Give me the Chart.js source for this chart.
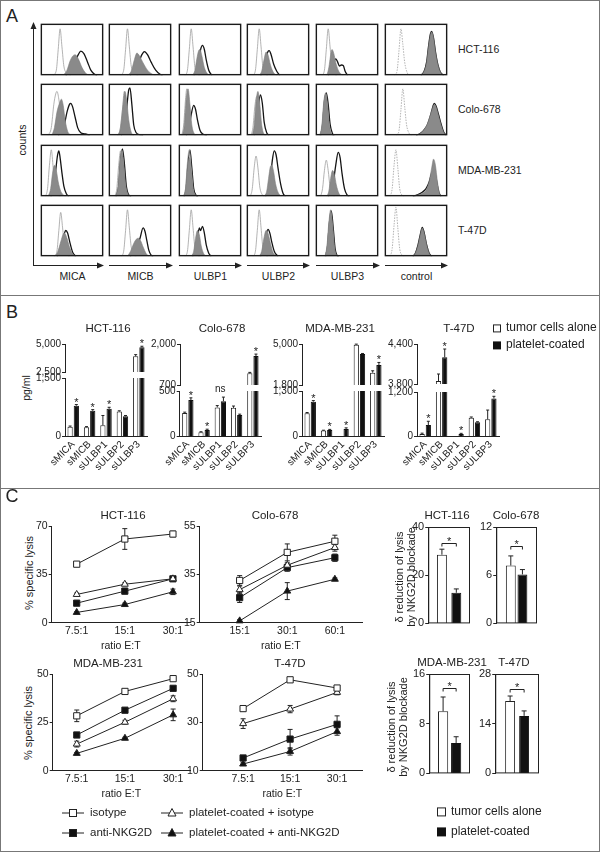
<!DOCTYPE html>
<html>
<head>
<meta charset="utf-8">
<script src="https://cdn.jsdelivr.net/npm/chart.js@4.4.1/dist/chart.umd.min.js"></script>
<style>
  body { margin: 0; background: #fff; }
  #fig { position: relative; width: 600px; height: 852px; overflow: hidden;
         font-family: 'Liberation Sans', Arial, sans-serif; color: #222; }
  .frameBox { position: absolute; left: 0; top: 0; width: 598px; height: 850px; border: 1px solid #777; }
  .hr { position: absolute; left: 0; width: 600px; border-top: 1px solid #777; }
  .t { position: absolute; white-space: nowrap; font-size: 11px; line-height: 1.1; }
  .c { transform: translate(-50%, -50%); }
  .l { transform: translate(0, -50%); }
  .r90 { transform: translate(-50%, -50%) rotate(-90deg); text-align: center; }
  canvas { position: absolute; }
  svg { position: absolute; left: 0; top: 0; }
</style>
</head>
<body>
<div id="fig"><div class="frameBox"></div></div>
<script>
// ---------------- data ----------------
// panel A: flow cytometry histograms, each curve is a list of [fluorescence %, counts %]
const markers = ['MICA', 'MICB', 'ULBP1', 'ULBP2', 'ULBP3', 'control'];
const cellLines = ['HCT-116', 'Colo-678', 'MDA-MB-231', 'T-47D'];

const isoHCT116 = [
  [[20,0],[25,10],[28,50],[31,90],[34,55],[37,18],[42,4],[48,0]],
  [[19,0],[24,10],[27,50],[30,90],[33,55],[36,18],[41,4],[47,0]],
  [[10,0],[14,10],[17,50],[20,90],[23,55],[26,15],[30,2],[34,0]],
  [[10,0],[14,10],[17,50],[20,90],[23,55],[26,15],[30,2],[34,0]],
  [[10,0],[14,10],[17,50],[20,90],[23,55],[26,15],[30,2],[34,0]],
  [[16,0],[20,10],[23,50],[26,90],[29,60],[32,25],[36,5],[40,0]]
];
const coatedHCT116 = [
  [[36,0],[42,10],[47,28],[51,37],[55,40],[60,32],[66,15],[72,4],[78,0]],
  [[30,0],[36,8],[41,30],[45,43],[49,38],[55,24],[62,10],[70,2],[75,0]],
  [[22,0],[26,10],[29,32],[32,48],[34,50],[37,38],[41,15],[46,3],[50,0]],
  [[20,0],[24,8],[28,32],[31,45],[34,40],[38,20],[43,5],[48,0]],
  [[18,0],[21,15],[24,40],[26,50],[29,42],[32,25],[36,10],[40,3],[44,0]],
  [[58,0],[63,8],[67,25],[70,55],[73,78],[75,84],[78,72],[81,45],[85,20],[89,6],[94,0]]
];
const aloneHCT116 = [
  [[40,0],[47,8],[54,25],[60,40],[64,47],[69,42],[75,25],[80,10],[86,2],[90,0]],
  [[34,0],[42,8],[48,25],[53,40],[57,46],[62,40],[68,25],[75,10],[82,2],[86,0]],
  [[24,0],[28,8],[32,30],[35,50],[38,58],[41,50],[44,30],[48,10],[53,0]],
  [[22,0],[26,6],[30,28],[34,46],[36,48],[39,40],[43,22],[48,8],[53,0]],
  [[20,0],[24,8],[28,22],[32,32],[35,26],[38,18],[41,20],[44,19],[47,8],[51,0]],
  [[58,0],[63,8],[67,26],[70,56],[73,80],[75,85],[78,72],[81,46],[85,20],[89,6],[94,0]]
];

const isoColo678 = [
  [[12,0],[17,15],[21,60],[24,80],[26,85],[29,70],[32,40],[36,15],[42,3],[48,0]],
  [[14,0],[18,10],[22,50],[25,85],[28,60],[31,20],[35,3],[40,0]],
  [[5,0],[8,20],[11,70],[13,90],[15,65],[18,25],[22,5],[26,0]],
  [[7,0],[10,15],[13,55],[16,75],[19,55],[22,20],[26,3],[30,0]],
  [[6,0],[10,15],[13,60],[15,75],[18,55],[21,20],[25,2],[28,0]],
  [[19,0],[23,10],[26,50],[29,90],[32,55],[35,20],[39,4],[43,0]]
];
const coatedColo678 = [
  [[18,0],[22,15],[26,45],[30,62],[33,70],[36,58],[39,30],[43,8],[48,0]],
  [[15,0],[19,15],[23,60],[26,85],[29,65],[32,30],[36,6],[40,0]],
  [[6,0],[9,20],[12,70],[15,90],[18,60],[21,20],[25,3],[28,0]],
  [[9,0],[12,20],[15,65],[18,85],[21,60],[24,20],[28,2],[31,0]],
  [[7,0],[10,20],[13,65],[16,82],[19,60],[22,20],[26,2],[29,0]],
  [[50,0],[56,3],[62,10],[68,22],[73,40],[77,55],[79,60],[82,55],[86,38],[90,20],[94,6],[98,0]]
];
const aloneColo678 = [
  [[28,0],[33,6],[38,22],[42,45],[46,60],[48,62],[51,55],[55,35],[59,15],[64,5],[70,3],[74,2],[78,0]],
  [[20,0],[25,12],[29,55],[32,88],[34,92],[37,60],[40,20],[44,5],[50,1],[55,0]],
  [[12,0],[16,10],[20,40],[24,58],[27,50],[30,30],[34,10],[38,3],[45,0]],
  [[12,0],[15,15],[19,60],[22,78],[25,62],[28,25],[32,5],[36,0]],
  [[8,0],[11,20],[14,65],[17,82],[20,60],[23,22],[27,3],[30,0]],
  [[50,0],[56,3],[62,9],[68,20],[73,38],[77,56],[79,62],[82,57],[86,40],[90,22],[94,7],[98,0]]
];

const isoMDA231 = [
  [[8,0],[11,15],[14,60],[17,90],[20,55],[23,20],[27,3],[31,0]],
  [[10,0],[13,15],[16,60],[19,88],[22,55],[25,15],[29,2],[32,0]],
  [[8,0],[11,15],[14,65],[17,90],[20,55],[23,15],[27,2],[30,0]],
  [[6,0],[9,15],[12,55],[15,78],[18,55],[21,18],[25,3],[28,0]],
  [[8,0],[11,15],[14,50],[17,70],[20,50],[23,18],[27,3],[30,0]],
  [[9,0],[12,15],[15,60],[18,90],[21,55],[24,15],[28,2],[31,0]]
];
const coatedMDA231 = [
  [[12,0],[16,15],[19,45],[22,60],[25,50],[28,28],[32,10],[37,2],[40,0]],
  [[11,0],[15,20],[18,70],[21,90],[24,65],[27,25],[31,4],[35,0]],
  [[8,0],[11,15],[14,55],[17,75],[20,50],[23,15],[27,2],[30,0]],
  [[28,0],[32,10],[35,35],[38,58],[40,60],[43,48],[46,25],[50,8],[55,0]],
  [[18,0],[21,10],[24,35],[27,50],[30,42],[33,22],[37,6],[41,0]],
  [[45,0],[52,2],[60,6],[66,12],[71,28],[75,55],[78,72],[81,60],[84,30],[87,8],[90,0]]
];
const aloneMDA231 = [
  [[16,0],[20,10],[24,50],[27,80],[29,88],[31,75],[34,45],[37,20],[41,5],[45,0]],
  [[12,0],[16,20],[19,70],[22,92],[25,65],[28,22],[32,3],[36,0]],
  [[9,0],[12,15],[15,65],[18,90],[21,55],[24,15],[28,2],[31,0]],
  [[30,0],[34,8],[38,35],[41,70],[44,88],[47,80],[50,55],[54,25],[58,6],[62,0]],
  [[20,0],[24,6],[28,25],[32,60],[36,85],[39,75],[42,45],[46,15],[50,3],[54,0]],
  [[45,0],[52,3],[60,8],[66,15],[71,28],[75,45],[78,50],[81,42],[84,22],[87,6],[90,0]]
];

const isoT47D = [
  [[22,0],[26,10],[29,50],[32,85],[35,55],[38,18],[42,3],[46,0]],
  [[20,0],[24,10],[27,50],[30,90],[33,55],[36,18],[40,3],[44,0]],
  [[10,0],[14,10],[17,50],[20,90],[23,55],[26,15],[30,2],[34,0]],
  [[10,0],[14,10],[17,50],[20,90],[23,55],[26,15],[30,2],[34,0]],
  [[15,0],[18,15],[21,55],[24,85],[27,55],[30,15],[33,2],[36,0]],
  [[9,0],[12,15],[15,60],[18,95],[21,55],[24,15],[28,2],[31,0]]
];
const coatedT47D = [
  [[22,0],[27,8],[32,28],[36,43],[38,45],[42,35],[46,18],[51,5],[55,0]],
  [[30,0],[35,10],[40,25],[44,33],[47,35],[51,30],[55,18],[60,5],[64,0]],
  [[20,0],[24,10],[27,35],[30,50],[33,42],[36,20],[40,5],[44,0]],
  [[20,0],[24,10],[28,38],[31,50],[34,45],[38,25],[42,8],[47,0]],
  [[15,0],[18,20],[21,65],[24,90],[27,60],[30,18],[33,3],[36,0]],
  [[45,0],[49,6],[53,20],[57,42],[60,55],[63,45],[67,22],[71,6],[75,0]]
];
const aloneT47D = [
  [[26,0],[30,8],[34,25],[38,45],[40,50],[43,45],[47,25],[51,8],[56,0]],
  [[34,0],[40,6],[45,18],[50,35],[55,55],[58,48],[61,30],[64,12],[68,2],[71,0]],
  [[22,0],[26,8],[30,35],[33,55],[35,50],[38,58],[41,45],[44,22],[48,6],[52,0]],
  [[22,0],[26,10],[30,35],[34,52],[37,45],[40,28],[44,10],[50,0]],
  [[16,0],[19,20],[22,65],[25,88],[28,55],[31,15],[34,2],[37,0]],
  [[45,0],[49,6],[53,21],[57,43],[60,56],[63,46],[67,22],[71,6],[75,0]]
];

// panel B: soluble ligands (pg/ml)
const analytes = ['sMICA', 'sMICB', 'sULBP1', 'sULBP2', 'sULBP3'];
const solAloneHCT116 = [250, 240, 290, 640, 3900];
const solAloneErrHCT116 = [20, 15, 250, 20, 150];
const solCoatedHCT116 = [790, 660, 710, 520, 4700];
const solCoatedErrHCT116 = [30, 30, 40, 20, 100];
const solAloneColo678 = [260, 48, 320, 315, 1070];
const solAloneErrColo678 = [8, 5, 20, 20, 30];
const solCoatedColo678 = [400, 73, 388, 236, 1620];
const solCoatedErrColo678 = [25, 8, 45, 10, 60];
const solAloneMDA231 = [666, 171, 0, 4950, 2760];
const solAloneErrMDA231 = [20, 10, 0, 40, 150];
const solCoatedMDA231 = [996, 190, 219, 4220, 3360];
const solCoatedErrMDA231 = [30, 15, 30, 40, 200];
const solAloneT47D = [72, 3845, 0, 507, 464];
const solAloneErrT47D = [20, 105, 0, 20, 250];
const solCoatedT47D = [312, 4200, 72, 384, 1024];
const solCoatedErrT47D = [100, 125, 15, 15, 60];
// broken axis: [min, max] of the upper and lower segments
const solUpperTicks = [[2500, 5000], [700, 2000], [1800, 5000], [3800, 4400]];
const solLowerTicks = [[0, 1500], [0, 500], [0, 1300], [0, 1200]];
const solSignif = [['*', '*', '*', '', '*'], ['*', '*', 'ns', '', '*'], ['*', '*', '*', '', '*'], ['*', '*', '*', '', '*']];

// panel C: % specific lysis
const ratiosLow = ['7.5:1', '15:1', '30:1'];
const ratiosColo = ['15:1', '30:1', '60:1'];
const lysisIsoHCT116 = [42.4, 60.6, 64.2];       const lysisIsoErrHCT116 = [1, 7.5, 2];
const lysisCoatIsoHCT116 = [20.5, 27.9, 31.8];   const lysisCoatIsoErrHCT116 = [1, 1, 1];
const lysisAntiHCT116 = [14.2, 22.9, 31.8];      const lysisAntiErrHCT116 = [1, 2, 1];
const lysisCoatAntiHCT116 = [7.5, 13.2, 22.4];   const lysisCoatAntiErrHCT116 = [0.5, 1, 2];
const lysisIsoColo678 = [32.5, 44.1, 48.7];      const lysisIsoErrColo678 = [2, 3.5, 2.5];
const lysisCoatIsoColo678 = [28.7, 38.8, 46.1];  const lysisCoatIsoErrColo678 = [1.5, 1, 1.5];
const lysisAntiColo678 = [25.4, 37.8, 41.9];     const lysisAntiErrColo678 = [2, 1.5, 1.5];
const lysisCoatAntiColo678 = [15.8, 28.1, 33.0]; const lysisCoatAntiErrColo678 = [0.5, 3.5, 0.5];
const lysisIsoMDA231 = [28.4, 41.0, 47.6];       const lysisIsoErrMDA231 = [3, 1, 1];
const lysisCoatIsoMDA231 = [13.8, 25.1, 37.2];   const lysisCoatIsoErrMDA231 = [1.5, 1, 1.5];
const lysisAntiMDA231 = [18.5, 31.3, 42.6];      const lysisAntiErrMDA231 = [1, 1, 1];
const lysisCoatAntiMDA231 = [9.0, 16.8, 28.9];   const lysisCoatAntiErrMDA231 = [0.5, 0.5, 3];
const lysisIsoT47D = [35.7, 47.6, 44.2];         const lysisIsoErrT47D = [1, 0.5, 1];
const lysisCoatIsoT47D = [29.5, 35.5, 42.4];     const lysisCoatIsoErrT47D = [2, 1.5, 1];
const lysisAntiT47D = [15.3, 23.1, 29.2];        const lysisAntiErrT47D = [1, 4, 3.5];
const lysisCoatAntiT47D = [12.8, 18.0, 26.2];    const lysisCoatAntiErrT47D = [0.5, 1.5, 1.5];
const lysisTicks = [[0, 35, 70], [15, 35, 55], [0, 25, 50], [10, 30, 50]];

// panel C: reduction of lysis by NKG2D blockade (HCT-116, Colo-678, MDA-MB-231, T-47D)
const deltaAlone = [28.5, 7.2, 10.0, 20.4];
const deltaAloneErr = [2.3, 1.2, 2.3, 1.4];
const deltaCoated = [12.7, 6.1, 4.9, 16.2];
const deltaCoatedErr = [1.6, 0.6, 1.0, 1.4];
const deltaTicks = [[0, 20, 40], [0, 6, 12], [0, 8, 16], [0, 14, 28]];
const deltaBracket = [33.3, 9.6, 13.7, 23.8];

// ---------------- helpers ----------------
const FONT = "'Liberation Sans', Arial, sans-serif";
Chart.defaults.font.family = FONT;
Chart.defaults.font.size = 10.5;
Chart.defaults.color = '#222';
Chart.defaults.animation = false;
Chart.defaults.events = [];
Chart.defaults.plugins.legend.display = false;
Chart.defaults.plugins.tooltip.enabled = false;

const fig = document.getElementById('fig');

// create a chart and move/resize its canvas so the chart area lands on box
function makeChart(box, config) {
  const canvas = document.createElement('canvas');
  canvas.width = Math.round(box.w + 100);
  canvas.height = Math.round(box.h + 100);
  fig.appendChild(canvas);
  config.options.responsive = false;
  config.options.maintainAspectRatio = false;
  const chart = new Chart(canvas, config);
  for (let k = 0; k < 2; k++) {
    const a = chart.chartArea;
    chart.resize(Math.round(chart.width - (a.right - a.left) + box.w),
                 Math.round(chart.height - (a.bottom - a.top) + box.h));
  }
  const a = chart.chartArea;
  canvas.style.left = Math.round(box.x - a.left) + 'px';
  canvas.style.top = Math.round(box.y - a.top) + 'px';
  return chart;
}

function text(str, x, y, cls, size) {
  const d = document.createElement('div');
  d.className = 't ' + cls;
  d.style.left = x + 'px';
  d.style.top = y + 'px';
  if (size) d.style.fontSize = size + 'px';
  d.innerHTML = str;
  fig.appendChild(d);
  return d;
}

const frame = {
  id: 'frame',
  afterDraw(chart, args, opts) {
    if (!opts.width) return;
    const a = chart.chartArea, ctx = chart.ctx, h = opts.width / 2;
    ctx.save();
    ctx.strokeStyle = opts.color || '#111';
    ctx.lineWidth = opts.width;
    ctx.strokeRect(a.left + h, a.top + h, a.right - a.left - opts.width, a.bottom - a.top - opts.width);
    ctx.restore();
  }
};

function drawErrors(chart, opts) {
  const ctx = chart.ctx, cap = opts.cap || 2;
  ctx.save();
  ctx.strokeStyle = '#222';
  ctx.lineWidth = 1;
  chart.data.datasets.forEach((ds, i) => {
    if (!ds.errors) return;
    const meta = chart.getDatasetMeta(i);
    const ys = chart.scales[meta.yAxisID];
    meta.data.forEach((el, j) => {
      const raw = ds.data[j];
      const v = typeof raw === 'object' ? raw.y : raw;
      const e = ds.errors[j];
      if (!e || v < ys.min || v > ys.max) return;
      const top = ys.getPixelForValue(v + e);
      const bottom = ys.getPixelForValue(opts.upOnly ? v : v - e);
      ctx.beginPath();
      ctx.moveTo(el.x, bottom); ctx.lineTo(el.x, top);
      ctx.moveTo(el.x - cap, top); ctx.lineTo(el.x + cap, top);
      if (!opts.upOnly) { ctx.moveTo(el.x - cap, bottom); ctx.lineTo(el.x + cap, bottom); }
      ctx.stroke();
    });
  });
  ctx.restore();
}
const errorBars = {
  id: 'errorBars',
  beforeDatasetsDraw(chart, args, opts) { if (opts.behind) drawErrors(chart, opts); },
  afterDatasetsDraw(chart, args, opts) { if (!opts.behind) drawErrors(chart, opts); }
};

const stars = {
  id: 'stars',
  afterDatasetsDraw(chart, args, opts) {
    if (!opts.labels) return;
    const ctx = chart.ctx, ys = chart.scales.y;
    const dA = chart.data.datasets[0], dB = chart.data.datasets[1];
    const mA = chart.getDatasetMeta(0), mB = chart.getDatasetMeta(1);
    ctx.save();
    ctx.fillStyle = '#222';
    ctx.textAlign = 'center';
    opts.labels.forEach((lab, j) => {
      if (!lab) return;
      const v = dB.data[j];
      if (v < ys.min || v > ys.max) return;
      if (lab === 'ns') {
        const top = Math.max(v + dB.errors[j], dA.data[j] + dA.errors[j]);
        ctx.font = '10px ' + FONT;
        ctx.fillText(lab, (mA.data[j].x + mB.data[j].x) / 2, ys.getPixelForValue(top) - 5);
      } else {
        ctx.font = '11px ' + FONT;
        ctx.fillText(lab, mB.data[j].x, ys.getPixelForValue(v + dB.errors[j]) + 1);
      }
    });
    ctx.restore();
  }
};

const bracket = {
  id: 'bracket',
  afterDatasetsDraw(chart, args, opts) {
    if (opts.level == null) return;
    const ctx = chart.ctx, ys = chart.scales.y;
    const x1 = chart.getDatasetMeta(0).data[0].x, x2 = chart.getDatasetMeta(1).data[0].x;
    const y = Math.round(ys.getPixelForValue(opts.level)) + 0.5;
    ctx.save();
    ctx.strokeStyle = '#222';
    ctx.lineWidth = 1;
    ctx.beginPath();
    ctx.moveTo(x1, y + 3); ctx.lineTo(x1, y); ctx.lineTo(x2, y); ctx.lineTo(x2, y + 3);
    ctx.stroke();
    ctx.fillStyle = '#222';
    ctx.textAlign = 'center';
    ctx.font = '11px ' + FONT;
    ctx.fillText('*', (x1 + x2) / 2, y + 1);
    ctx.restore();
  }
};

function fixedTicks(values) {
  return s => { s.ticks = values.map(v => ({ value: v })); };
}

// ---------------- panel A ----------------
const histCols = [41, 109, 179, 247, 316, 385];
const histRows = [24, 84, 145, 205];
const histIso = [isoHCT116, isoColo678, isoMDA231, isoT47D];
const histCoated = [coatedHCT116, coatedColo678, coatedMDA231, coatedT47D];
const histAlone = [aloneHCT116, aloneColo678, aloneMDA231, aloneT47D];

histRows.forEach((y, r) => {
  histCols.forEach((x, c) => {
    makeChart({ x: x, y: y, w: 63, h: 52 }, {
      type: 'line',
      data: { datasets: [
        { data: histCoated[r][c], borderColor: '#808080', backgroundColor: '#8a8a8a', borderWidth: 0.6, fill: 'origin' },
        { data: histIso[r][c], borderColor: '#a0a0a0', borderWidth: 0.8, borderDash: c === 5 ? [1.5, 1.2] : [], fill: false },
        { data: histAlone[r][c], borderColor: '#141414', borderWidth: 1.3, fill: false }
      ]},
      options: {
        layout: { padding: 0 },
        elements: { point: { radius: 0 }, line: { cubicInterpolationMode: 'monotone' } },
        scales: {
          x: { type: 'linear', min: 0, max: 100, display: false },
          y: { min: 0, max: 100, display: false }
        },
        plugins: { frame: { width: 1.4, color: '#1a1a1a' } }
      },
      plugins: [frame]
    });
  });
  text(cellLines[r], 458, y + 26, 'l', 10.5);
});
markers.forEach((m, c) => text(m, histCols[c] + 31.5, 277, 'c', 10.5));
text('counts', 23, 140, 'r90', 10.5);
text('A', 12, 17, 'c', 18);

// axis arrows of panel A
let svgA = '<svg width="600" height="300"><g stroke="#222" fill="#222" stroke-width="1">';
svgA += '<line x1="33.5" y1="265.5" x2="33.5" y2="28"/><polygon points="33.5,22 30.5,29 36.5,29" stroke="none"/>';
[[33, 104], [109, 173], [179, 242], [247, 310], [316, 380], [385, 448]].forEach(([a, b]) => {
  svgA += `<line x1="${a}" y1="265.5" x2="${b - 5}" y2="265.5"/><polygon points="${b},265.5 ${b - 7},262.5 ${b - 7},268.5" stroke="none"/>`;
});
svgA += '</g></svg>';
fig.insertAdjacentHTML('beforeend', svgA);

// dividers
[295, 488].forEach(y => { const d = document.createElement('div'); d.className = 'hr'; d.style.top = y + 'px'; fig.appendChild(d); });

// ---------------- panel B ----------------
text('B', 12, 313, 'c', 18);
text('pg/ml', 27, 388, 'r90', 10.5);

const solBoxes = [
  { up: { x: 65, y: 344, w: 82, h: 28 }, low: { x: 65, y: 378, w: 82, h: 59 }, title: 108 },
  { up: { x: 180, y: 344, w: 81, h: 41 }, low: { x: 180, y: 391, w: 81, h: 46 }, title: 222 },
  { up: { x: 302, y: 344, w: 82, h: 41 }, low: { x: 302, y: 391, w: 82, h: 46 }, title: 340 },
  { up: { x: 417, y: 344, w: 82, h: 40 }, low: { x: 417, y: 392, w: 82, h: 45 }, title: 459 }
];
const solAlone = [solAloneHCT116, solAloneColo678, solAloneMDA231, solAloneT47D];
const solAloneErr = [solAloneErrHCT116, solAloneErrColo678, solAloneErrMDA231, solAloneErrT47D];
const solCoated = [solCoatedHCT116, solCoatedColo678, solCoatedMDA231, solCoatedT47D];
const solCoatedErr = [solCoatedErrHCT116, solCoatedErrColo678, solCoatedErrMDA231, solCoatedErrT47D];

function solubleChart(box, k, ticks, showX) {
  return makeChart(box, {
    type: 'bar',
    data: { labels: analytes, datasets: [
      { label: 'tumor cells alone', data: solAlone[k], errors: solAloneErr[k], backgroundColor: '#fff', borderColor: '#222', borderWidth: 1, clip: 0 },
      { label: 'platelet-coated', data: solCoated[k], errors: solCoatedErr[k], backgroundColor: '#111', borderColor: '#111', borderWidth: 1, clip: 0 }
    ]},
    options: {
      layout: { padding: { top: 10, right: 6 } },
      datasets: { bar: { categoryPercentage: 0.76, barPercentage: 0.84 } },
      scales: {
        x: { display: showX, grid: { display: false, drawTicks: false }, border: { color: '#222' },
             ticks: { minRotation: 45, maxRotation: 45, autoSkip: false, padding: 2, font: { size: 10 } } },
        y: { min: ticks[0], max: ticks[1], afterBuildTicks: fixedTicks(ticks),
             border: { color: '#222' }, grid: { drawOnChartArea: false, tickLength: 3, color: '#222' },
             ticks: { padding: 1, font: { size: 10 }, callback: v => v.toLocaleString('en-US') } }
      },
      plugins: { errorBars: { upOnly: true, cap: 1.5 }, stars: { labels: solSignif[k] } }
    },
    plugins: [errorBars, stars]
  });
}
solBoxes.forEach((b, k) => {
  solubleChart(b.up, k, solUpperTicks[k], false);
  solubleChart(b.low, k, solLowerTicks[k], true);
  text(cellLines[k], b.title, 328, 'c', 11.5);
});
text('<span style="display:inline-block;width:6px;height:6px;border:1px solid #222;margin-right:5px;vertical-align:-1px"></span>tumor cells alone', 493, 328, 'l', 12);
text('<span style="display:inline-block;width:8px;height:8px;background:#111;margin-right:5px;vertical-align:-1px"></span>platelet-coated', 493, 345, 'l', 12);

// ---------------- panel C ----------------
text('C', 12, 497, 'c', 18);

const lysisStyles = [
  { label: 'isotype', pointStyle: 'rect', pointBackgroundColor: '#fff', pointRadius: 4.4 },
  { label: 'platelet-coated + isotype', pointStyle: 'triangle', pointBackgroundColor: '#fff', pointRadius: 4 },
  { label: 'anti-NKG2D', pointStyle: 'rect', pointBackgroundColor: '#111', pointRadius: 4.4 },
  { label: 'platelet-coated + anti-NKG2D', pointStyle: 'triangle', pointBackgroundColor: '#111', pointRadius: 4 }
];
const lysisSeries = [
  [[lysisIsoHCT116, lysisIsoErrHCT116], [lysisCoatIsoHCT116, lysisCoatIsoErrHCT116], [lysisAntiHCT116, lysisAntiErrHCT116], [lysisCoatAntiHCT116, lysisCoatAntiErrHCT116]],
  [[lysisIsoColo678, lysisIsoErrColo678], [lysisCoatIsoColo678, lysisCoatIsoErrColo678], [lysisAntiColo678, lysisAntiErrColo678], [lysisCoatAntiColo678, lysisCoatAntiErrColo678]],
  [[lysisIsoMDA231, lysisIsoErrMDA231], [lysisCoatIsoMDA231, lysisCoatIsoErrMDA231], [lysisAntiMDA231, lysisAntiErrMDA231], [lysisCoatAntiMDA231, lysisCoatAntiErrMDA231]],
  [[lysisIsoT47D, lysisIsoErrT47D], [lysisCoatIsoT47D, lysisCoatIsoErrT47D], [lysisAntiT47D, lysisAntiErrT47D], [lysisCoatAntiT47D, lysisCoatAntiErrT47D]]
];
const lysisLayout = [
  { box: { x: 52, y: 526, w: 138, h: 97 }, xr: [-0.52, 2.355], ratios: ratiosLow, title: [123, 515] },
  { box: { x: 200, y: 526, w: 162, h: 97 }, xr: [-0.84, 2.57], ratios: ratiosColo, title: [275, 515] },
  { box: { x: 53, y: 674, w: 137, h: 97 }, xr: [-0.5, 2.35], ratios: ratiosLow, title: [108, 663] },
  { box: { x: 203, y: 674, w: 159, h: 97 }, xr: [-0.86, 2.53], ratios: ratiosLow, title: [290, 663] }
];

lysisLayout.forEach((L, k) => {
  const t = lysisTicks[k];
  makeChart(L.box, {
    type: 'line',
    data: { datasets: lysisSeries[k].map((s, i) => Object.assign({
      data: s[0].map((v, j) => ({ x: j, y: v })), errors: s[1],
      borderColor: '#222', borderWidth: 1, pointBorderColor: '#222', pointBorderWidth: 1, clip: false
    }, lysisStyles[i])) },
    options: {
      layout: { padding: { top: 10, right: 12 } },
      scales: {
        x: { type: 'linear', min: L.xr[0], max: L.xr[1], afterBuildTicks: fixedTicks([0, 1, 2]),
             grid: { display: false, drawTicks: false }, border: { color: '#222' },
             ticks: { padding: 2, callback: v => L.ratios[v] },
             title: { display: true, text: 'ratio E:T', padding: { top: 0, bottom: 0 } } },
        y: { min: t[0], max: t[2], afterBuildTicks: fixedTicks(t),
             border: { color: '#222' }, grid: { drawOnChartArea: false, tickLength: 3, color: '#222' },
             ticks: { padding: 1 } }
      },
      plugins: { errorBars: { behind: true, cap: 2.5 } }
    },
    plugins: [errorBars]
  });
  text(cellLines[k], L.title[0], L.title[1], 'c', 11.5);
});
text('% specific lysis', 29, 573, 'r90', 11);
text('% specific lysis', 28, 723, 'r90', 11);

const deltaLayout = [
  { box: { x: 428, y: 527, w: 42, h: 96 }, cp: 0.69, bp: 0.69, title: [447, 515] },
  { box: { x: 496, y: 527, w: 41, h: 96 }, cp: 0.57, bp: 0.85, title: [516, 515] },
  { box: { x: 429, y: 674, w: 41, h: 99 }, cp: 0.64, bp: 0.78, title: [452, 662] },
  { box: { x: 495, y: 674, w: 44, h: 99 }, cp: 0.64, bp: 0.71, title: [514, 662] }
];
deltaLayout.forEach((L, k) => {
  const t = deltaTicks[k];
  makeChart(L.box, {
    type: 'bar',
    data: { labels: [''], datasets: [
      { label: 'tumor cells alone', data: [deltaAlone[k]], errors: [deltaAloneErr[k]], backgroundColor: '#fff', borderColor: '#222', borderWidth: 1 },
      { label: 'platelet-coated', data: [deltaCoated[k]], errors: [deltaCoatedErr[k]], backgroundColor: '#111', borderColor: '#111', borderWidth: 1 }
    ]},
    options: {
      layout: { padding: { top: 10, right: 4, bottom: 4 } },
      datasets: { bar: { categoryPercentage: L.cp, barPercentage: L.bp } },
      scales: {
        x: { display: false },
        y: { min: t[0], max: t[2], afterBuildTicks: fixedTicks(t),
             border: { color: '#222' }, grid: { drawOnChartArea: false, tickLength: 3, color: '#222' },
             ticks: { padding: 1, font: { size: 11 } } }
      },
      plugins: { frame: { width: 1, color: '#222' }, errorBars: { upOnly: true, cap: 2.5 }, bracket: { level: deltaBracket[k] } }
    },
    plugins: [frame, errorBars, bracket]
  });
  text(cellLines[k], L.title[0], L.title[1], 'c', 11.5);
});
text('δ reduction of lysis<br>by NKG2D blockade', 405, 577, 'r90', 11);
text('δ reduction of lysis<br>by NKG2D blockade', 397, 727, 'r90', 11);

// legends of panel C
function marker(style, fill) {
  const shape = style === 'rect'
    ? `<rect x="7.5" y="3.5" width="7" height="7" fill="${fill}" stroke="#222"/>`
    : `<polygon points="11,2.5 15,10 7,10" fill="${fill}" stroke="#222"/>`;
  return `<svg width="22" height="14" style="position:static;display:inline-block;vertical-align:middle;margin-right:6px"><line x1="0" y1="7" x2="22" y2="7" stroke="#222"/>${shape}</svg>`;
}
text(marker('rect', '#fff') + 'isotype', 62, 813, 'l', 11.5);
text(marker('triangle', '#fff') + 'platelet-coated + isotype', 161, 813, 'l', 11.5);
text(marker('rect', '#111') + 'anti-NKG2D', 62, 833, 'l', 11.5);
text(marker('triangle', '#111') + 'platelet-coated + anti-NKG2D', 161, 833, 'l', 11.5);
text('<span style="display:inline-block;width:7px;height:7px;border:1px solid #222;margin-right:5px;vertical-align:-1px"></span>tumor cells alone', 437, 812, 'l', 12);
text('<span style="display:inline-block;width:9px;height:9px;background:#111;margin-right:5px;vertical-align:-1px"></span>platelet-coated', 437, 832, 'l', 12);
</script>
</body>
</html>
